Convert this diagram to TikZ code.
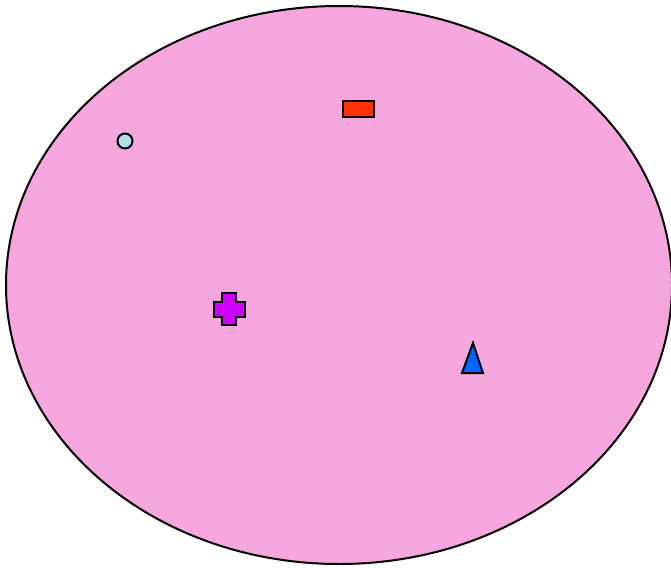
\documentclass[tikz,border=0pt]{standalone}
\usetikzlibrary{shapes.geometric}
\definecolor{pinkfill}{HTML}{F5A6DC}
\definecolor{rectred}{HTML}{FF3300}
\definecolor{circblue}{HTML}{B0E0E6}
\definecolor{crossviolet}{HTML}{D000FF}
\definecolor{triblue}{HTML}{0066FF}
\begin{document}
\begin{tikzpicture}[x=1pt,y=-1pt,
  shapeline/.style={draw=black,line width=2pt,line join=miter}]
\useasboundingbox (0,0) rectangle (671,567);
\node[shapeline,ellipse,fill=pinkfill,minimum width=666pt,minimum height=558pt,inner sep=0pt] (oval) at (339,285) {};
\node[shapeline,fill=rectred,minimum width=31pt,minimum height=15pt,inner sep=0pt] (rect) at (358,109) {};
\node[shapeline,circle,fill=circblue,minimum size=15pt,inner sep=0pt] (dot) at (125,141) {};
\draw[shapeline,fill=crossviolet] (222,293) -- (236,293) -- (236,302) -- (245,302) -- (245,317) -- (236,317) -- (236,325) -- (222,325) -- (222,317) -- (214,317) -- (214,302) -- (222,302) -- cycle;
\coordinate (cross) at (229,309);
\draw[shapeline,fill=triblue] (473,343) -- (483,373) -- (462,373) -- cycle;
\coordinate (tri) at (473,360);
\end{tikzpicture}
\end{document}
